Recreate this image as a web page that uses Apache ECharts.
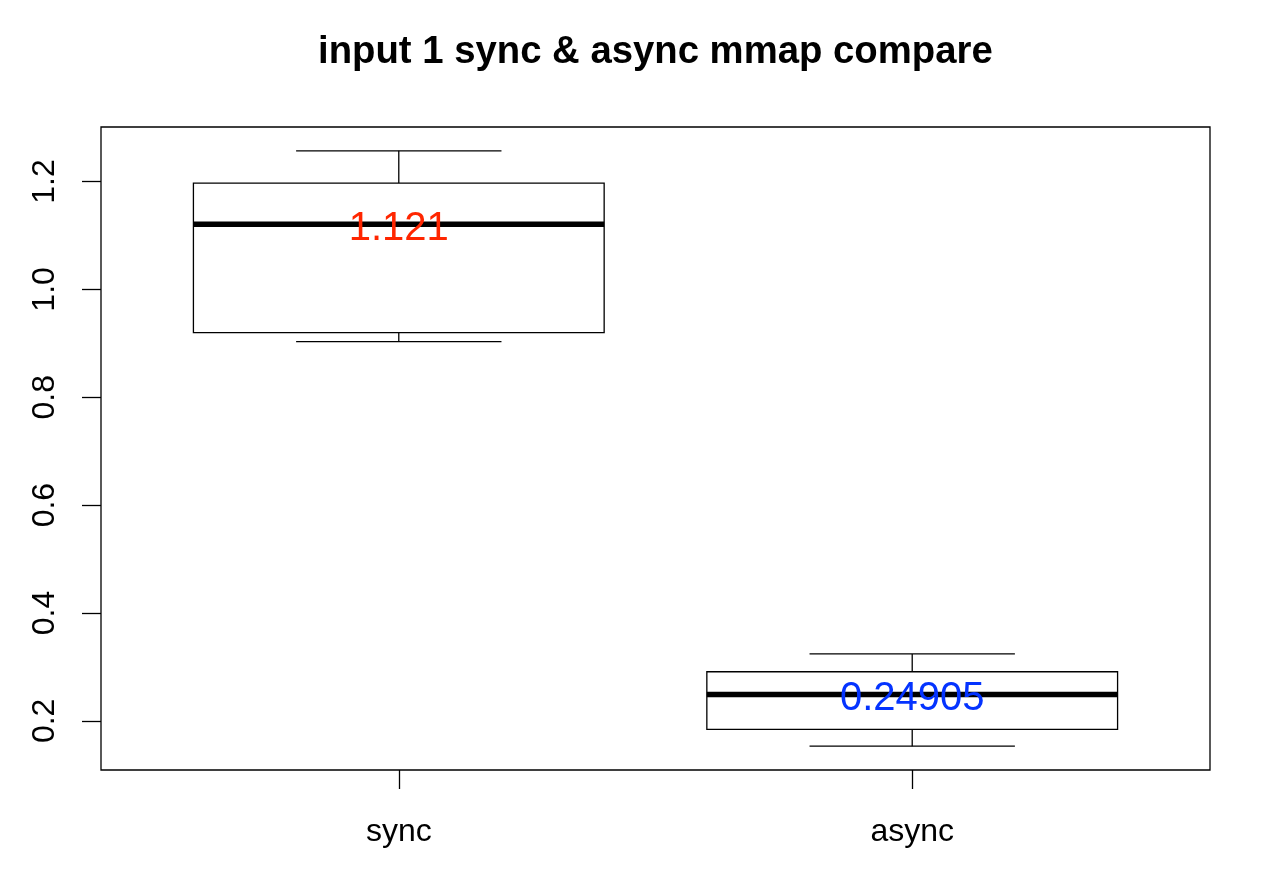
<!DOCTYPE html>
<html>
<head>
<meta charset="utf-8">
<script src="https://cdn.jsdelivr.net/npm/echarts@6/dist/echarts.min.js"></script>
<style>
html,body{margin:0;padding:0;background:#fff;}
#chart{width:1268px;height:896px;}
</style>
</head>
<body>
<div id="chart"></div>
<script>
// ---- data ----
const categories = ['sync', 'async'];
const whiskerLow = [0.903, 0.153];
const quartile1  = [0.920, 0.184];
const medians    = [1.121, 0.24905];
const quartile3  = [1.197, 0.291];
const whiskerHigh= [1.257, 0.324];
const yTicks = [0.2, 0.4, 0.6, 0.8, 1.0, 1.2];
const yTickLabels = ['0.2', '0.4', '0.6', '0.8', '1.0', '1.2'];
const xTicks = [1, 2];

// ---- styles ----
const labelColors = ['#FF2600', '#0433FF'];
const FONT = '"Liberation Sans", Arial, Helvetica, sans-serif';

// R-style axis ranges: 4% extension
const dMin = Math.min(...whiskerLow), dMax = Math.max(...whiskerHigh);
const ext = (dMax - dMin) * 0.04;
const yMin = dMin - ext, yMax = dMax + ext;
const xMin = 0.5 - 0.04 * categories.length, xMax = categories.length + 0.5 + 0.04 * categories.length;

const seriesData = categories.map((c, i) => [i + 1, whiskerLow[i], quartile1[i], medians[i], quartile3[i], whiskerHigh[i]]);

const chart = echarts.init(document.getElementById('chart'));
chart.setOption({
  animation: false,
  backgroundColor: '#fff',
  title: {
    text: 'input 1 sync & async mmap compare',
    left: 318,
    top: 33,
    padding: 0,
    textStyle: { fontFamily: FONT, fontSize: 38.3, fontWeight: 'bold', color: '#000' }
  },
  grid: {
    left: 101, top: 127, width: 1109, height: 643,
    show: true, borderColor: '#000', borderWidth: 1.3, backgroundColor: 'transparent'
  },
  xAxis: {
    type: 'value', min: xMin, max: xMax,
    axisLine: { show: false },
    splitLine: { show: false },
    axisTick: { show: true, length: 19, customValues: xTicks, lineStyle: { color: '#000', width: 1.3 } },
    axisLabel: {
      customValues: xTicks, margin: 46,
      formatter: v => categories[Math.round(v) - 1],
      fontFamily: FONT, fontSize: 32, color: '#000'
    }
  },
  yAxis: {
    type: 'value', min: yMin, max: yMax,
    axisLine: { show: false },
    splitLine: { show: false },
    axisTick: { show: true, length: 19, customValues: yTicks, lineStyle: { color: '#000', width: 1.3 } },
    axisLabel: {
      customValues: yTicks, margin: 40, rotate: 90,
      formatter: v => yTickLabels[yTicks.findIndex(t => Math.abs(t - v) < 1e-9)],
      fontFamily: FONT, fontSize: 32, color: '#000'
    }
  },
  series: [{
    type: 'custom',
    data: seriesData,
    renderItem: function (params, api) {
      const x = api.value(0);
      const lo = api.value(1), q1 = api.value(2), md = api.value(3), q3 = api.value(4), hi = api.value(5);
      const c = api.coord([x, md]);
      const halfBox = api.size([0.4, 0])[0];
      const halfCap = api.size([0.2, 0])[0];
      const yLo = api.coord([x, lo])[1], yQ1 = api.coord([x, q1])[1];
      const yQ3 = api.coord([x, q3])[1], yHi = api.coord([x, hi])[1];
      const cx = c[0], yMd = c[1];
      const ls = { stroke: '#000', lineWidth: 1.3, fill: null };
      const idx = params.dataIndex;
      return {
        type: 'group',
        children: [
          { type: 'line', shape: { x1: cx, y1: yQ3, x2: cx, y2: yHi }, style: ls },
          { type: 'line', shape: { x1: cx, y1: yQ1, x2: cx, y2: yLo }, style: ls },
          { type: 'line', shape: { x1: cx - halfCap, y1: yHi, x2: cx + halfCap, y2: yHi }, style: ls },
          { type: 'line', shape: { x1: cx - halfCap, y1: yLo, x2: cx + halfCap, y2: yLo }, style: ls },
          { type: 'rect', shape: { x: cx - halfBox, y: yQ3, width: 2 * halfBox, height: yQ1 - yQ3 }, style: { stroke: '#000', lineWidth: 1.3, fill: '#fff' } },
          { type: 'line', shape: { x1: cx - halfBox, y1: yMd, x2: cx + halfBox, y2: yMd }, style: { stroke: '#000', lineWidth: 5.5 } },
          { type: 'text', style: { text: String(medians[idx]), x: cx, y: yMd + 4.5, align: 'center', verticalAlign: 'middle',
              fill: labelColors[idx], font: '40px ' + FONT } }
        ]
      };
    }
  }]
});
</script>
</body>
</html>
